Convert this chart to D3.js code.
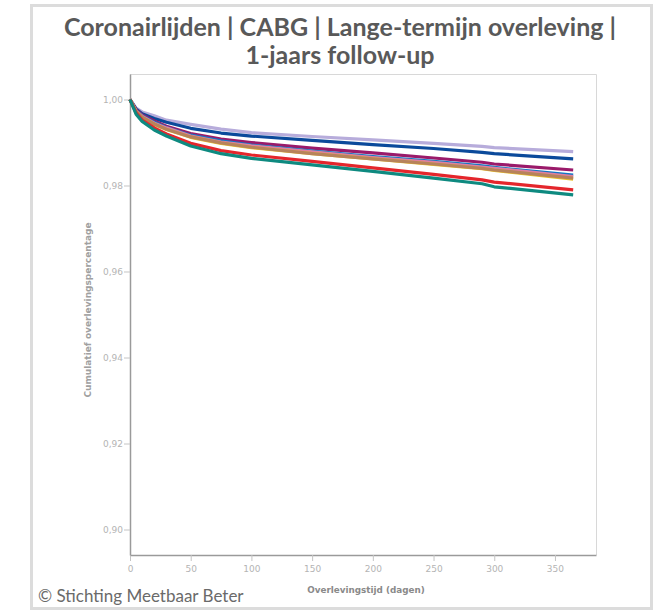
<!DOCTYPE html>
<html>
<head>
<meta charset="utf-8">
<script src="https://cdn.jsdelivr.net/npm/d3@7"></script>
<style>
  html, body { margin: 0; padding: 0; background: #fff; }
  svg { display: block; }
</style>
</head>
<body>
<svg id="chart" width="668" height="610"></svg>
<script>
// Follow-up days at which the survival curves are sampled
const days = [0, 5, 10, 20, 30, 50, 75, 100, 150, 200, 250, 290, 300, 365];

// Cumulative survival per hospital curve
const survLavender = [1, 0.9980, 0.9971, 0.9962, 0.9952, 0.9942, 0.9931, 0.9923, 0.9914, 0.9906, 0.9898, 0.9891, 0.9888, 0.9879];
const survDarkBlue = [1, 0.9978, 0.9967, 0.9956, 0.9947, 0.9933, 0.9922, 0.9915, 0.9905, 0.9895, 0.9886, 0.9877, 0.9874, 0.9862];
const survPurple   = [1, 0.9976, 0.9964, 0.9950, 0.9938, 0.9921, 0.9908, 0.9900, 0.9887, 0.9876, 0.9864, 0.9854, 0.9850, 0.9836];
const survBlue     = [1, 0.9974, 0.9962, 0.9947, 0.9935, 0.9917, 0.9904, 0.9894, 0.9880, 0.9867, 0.9856, 0.9846, 0.9842, 0.9824];
const survPink     = [1, 0.9973, 0.9961, 0.9945, 0.9934, 0.9915, 0.9901, 0.9892, 0.9878, 0.9865, 0.9854, 0.9843, 0.9840, 0.9821];
const survYellow   = [1, 0.9972, 0.9958, 0.9942, 0.9930, 0.9912, 0.9898, 0.9888, 0.9874, 0.9862, 0.9849, 0.9839, 0.9835, 0.9815];
const survBrown    = [1, 0.9972, 0.9959, 0.9943, 0.9931, 0.9913, 0.9899, 0.9889, 0.9874, 0.9862, 0.9850, 0.9840, 0.9836, 0.9817];
const survRed      = [1, 0.9969, 0.9952, 0.9934, 0.9920, 0.9898, 0.9881, 0.9871, 0.9856, 0.9841, 0.9826, 0.9813, 0.9808, 0.9790];
const survTeal     = [1, 0.9966, 0.9949, 0.9929, 0.9915, 0.9892, 0.9874, 0.9863, 0.9848, 0.9833, 0.9817, 0.9804, 0.9797, 0.9778];

const seriesValues = [survLavender, survDarkBlue, survPurple, survBlue, survPink, survYellow, survBrown, survRed, survTeal];
const seriesColors = ["#b7acdb", "#0b4a9b", "#9a1a6a", "#1177c6", "#e0809e", "#e9c22a", "#b7835b", "#e4262c", "#0e8a80"];

const xTicks = [0, 50, 100, 150, 200, 250, 300, 350];
const yTicks = [0.90, 0.92, 0.94, 0.96, 0.98, 1.00];

const titleLines = ["Coronairlijden | CABG | Lange-termijn overleving |", "1-jaars follow-up"];
const xTitle = "Overlevingstijd (dagen)";
const yTitle = "Cumulatief overlevingspercentage";
const credit = "\u00A9 Stichting Meetbaar Beter";

const svg = d3.select("#chart");

// Outer frame
svg.append("rect")
  .attr("x", 31.5).attr("y", 5.5).attr("width", 620).attr("height", 603)
  .attr("fill", "#fff").attr("stroke", "#dcdcdc").attr("stroke-width", 3);

// Title
const titleFont = "Lato, 'Open Sans', sans-serif";
svg.append("g").selectAll("text").data(titleLines).join("text")
  .attr("x", 340).attr("y", (d, i) => 36 + i * 28)
  .attr("text-anchor", "middle")
  .attr("font-family", titleFont).attr("font-weight", 700).attr("font-size", 25)
  .attr("fill", "#595959")
  .text(d => d);

const plot = { left: 130, right: 596, top: 74, bottom: 555 };

const x = d3.scaleLinear().domain([0, 383.8]).range([plot.left, plot.right]);
const y = d3.scaleLinear().domain([0.89407, 1.00593]).range([plot.bottom, plot.top]);

// Plot border (top and right light, axes darker)
svg.append("path")
  .attr("d", `M${plot.left},${plot.top + 0.5}H${plot.right + 0.5}V${plot.bottom}`)
  .attr("fill", "none").attr("stroke", "#d8d8d8").attr("stroke-width", 1);

const tickFont = "'DejaVu Sans', sans-serif";

const xAxis = svg.append("g")
  .attr("transform", `translate(0,${plot.bottom})`)
  .call(d3.axisBottom(x).tickValues(xTicks).tickSize(6).tickPadding(5).tickSizeOuter(0));
const yAxis = svg.append("g")
  .attr("transform", `translate(${plot.left},0)`)
  .call(d3.axisLeft(y).tickValues(yTicks).tickSize(6).tickPadding(1).tickSizeOuter(0)
    .tickFormat(d => d3.format(".2f")(d).replace(".", ",")));

[xAxis, yAxis].forEach(g => {
  g.select(".domain").attr("stroke", "#9a9a9a").attr("stroke-width", 1.5);
  g.selectAll(".tick line").attr("stroke", "#c4c4c4");
  g.selectAll(".tick text")
    .attr("fill", "#b4b4b4")
    .attr("font-family", tickFont)
    .attr("font-size", 9);
});

// Survival curves
const line = d3.line()
  .x((d, i) => x(days[i]))
  .y(d => y(d));

svg.append("g").selectAll("path").data(seriesValues).join("path")
  .attr("d", d => line(d))
  .attr("fill", "none")
  .attr("stroke", (d, i) => seriesColors[i])
  .attr("stroke-width", 3.2)
  .attr("stroke-linejoin", "round");

// Axis titles
svg.append("text")
  .attr("x", 366).attr("y", 593)
  .attr("text-anchor", "middle")
  .attr("font-family", tickFont).attr("font-weight", 700).attr("font-size", 8.8)
  .attr("fill", "#8a8a8a")
  .text(xTitle);

svg.append("text")
  .attr("transform", "translate(91,310) rotate(-90)")
  .attr("text-anchor", "middle")
  .attr("font-family", tickFont).attr("font-weight", 700).attr("font-size", 9)
  .attr("fill", "#a0a0a0")
  .text(yTitle);

// Credit line
svg.append("text")
  .attr("x", 38).attr("y", 602)
  .attr("font-family", titleFont).attr("font-size", 17)
  .attr("fill", "#6a6a6a")
  .text(credit);
</script>
</body>
</html>
